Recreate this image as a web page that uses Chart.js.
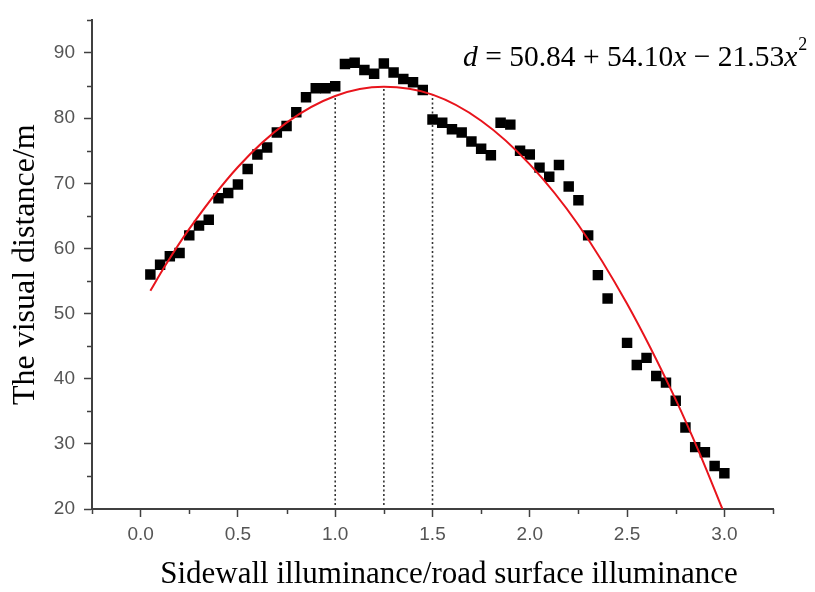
<!DOCTYPE html>
<html>
<head>
<meta charset="utf-8">
<script src="https://cdn.jsdelivr.net/npm/chart.js@4"></script>
<style>
  html, body { margin: 0; padding: 0; background: #ffffff; }
  #wrap { width: 815px; height: 592px; }
</style>
</head>
<body>
<div id="wrap"><canvas id="c" width="815" height="592"></canvas></div>
<script>
// ---- data ----
const ratioX = [0.05,0.10,0.15,0.20,0.25,0.30,0.35,0.40,0.45,0.50,
                0.55,0.60,0.65,0.70,0.75,0.80,0.85,0.90,0.95,1.00,
                1.05,1.10,1.15,1.20,1.25,1.30,1.35,1.40,1.45,1.50,
                1.55,1.60,1.65,1.70,1.75,1.80,1.85,1.90,1.95,2.00,
                2.05,2.10,2.15,2.20,2.25,2.30,2.35,2.40,2.50,2.55,
                2.60,2.65,2.70,2.75,2.80,2.85,2.90,2.95,3.00];
const visualDistance = [56.0,57.5,58.8,59.3,62.0,63.5,64.4,67.7,68.5,69.8,
                        72.2,74.4,75.5,77.8,78.8,80.9,83.2,84.6,84.6,84.9,
                        88.3,88.5,87.4,86.8,88.4,87.0,86.0,85.5,84.3,79.8,
                        79.3,78.3,77.8,76.4,75.3,74.3,79.3,79.0,75.0,74.4,
                        72.4,71.0,72.8,69.5,67.4,62.0,55.9,52.3,45.5,42.1,
                        43.2,40.4,39.4,36.6,32.5,29.5,28.7,26.6,25.5];
// fitted curve
const fitX = [0.05,0.125,0.25,0.5,0.75,1.0,1.25,1.5,1.75,2.0,2.25,2.5,2.75,2.875,2.99];
const fitY = [53.5,57.3,63.0,72.5,79.3,83.4,84.8,83.6,79.6,72.9,63.6,51.5,36.8,28.4,20.0];
// dotted guide lines
const guideX = [1.0, 1.25, 1.5];
const guideTop = [83.4, 84.8, 83.6];
const guideBottom = 20.6;
// axes
const xMajorTicks = [0.0,0.5,1.0,1.5,2.0,2.5,3.0];
const xMinorTicks = [-0.25,0.25,0.75,1.25,1.75,2.25,2.75,3.25];
const yMajorTicks = [20,30,40,50,60,70,80,90];
const yMinorTicks = [25,35,45,55,65,75,85,95];
const xTitle = 'Sidewall illuminance/road surface illuminance';
const yTitle = 'The visual distance/m';
const equationParts = [
  {t: 'd', it: true}, {t: ' = 50.84 + 54.10', it: false}, {t: 'x', it: true},
  {t: ' \u2212 21.53', it: false}, {t: 'x', it: true}, {t: '2', sup: true}
];

const AXIS_COLOR = '#404040';
const LABEL_COLOR = '#555555';

const scatterData = ratioX.map((x, i) => ({x: x, y: visualDistance[i]}));
const fitData = fitX.map((x, i) => ({x: x, y: fitY[i]}));
const guideSets = guideX.map((x, i) => ({
  type: 'line',
  data: [{x: x, y: guideBottom}, {x: x, y: guideTop[i]}],
  borderColor: '#333333',
  borderWidth: 1.6,
  borderDash: [2, 2.5],
  pointRadius: 0,
  order: 3
}));

const minorTickPlugin = {
  id: 'minorTicks',
  afterDraw(chart) {
    const ctx = chart.ctx;
    const xs = chart.scales.x, ys = chart.scales.y;
    ctx.save();
    ctx.strokeStyle = AXIS_COLOR;
    ctx.lineWidth = 1.5;
    ctx.beginPath();
    xMinorTicks.forEach(v => {
      const px = Math.round(xs.getPixelForValue(v)) + 0.5;
      ctx.moveTo(px, ys.bottom);
      ctx.lineTo(px, ys.bottom + 5);
    });
    yMinorTicks.forEach(v => {
      const py = Math.round(ys.getPixelForValue(v)) + 0.5;
      ctx.moveTo(xs.left, py);
      ctx.lineTo(xs.left - 5, py);
    });
    ctx.stroke();
    ctx.restore();
  }
};

const textPlugin = {
  id: 'texts',
  afterDraw(chart) {
    const ctx = chart.ctx;
    ctx.save();
    ctx.fillStyle = '#000000';
    ctx.textBaseline = 'alphabetic';
    // equation
    let x = 463;
    const y = 66;
    equationParts.forEach(p => {
      if (p.sup) {
        ctx.font = '18px "Liberation Serif"';
        ctx.fillText(p.t, x + 1, y - 16);
        x += ctx.measureText(p.t).width + 1;
      } else {
        ctx.font = (p.it ? 'italic ' : '') + '29.5px "Liberation Serif"';
        ctx.fillText(p.t, x, y);
        x += ctx.measureText(p.t).width;
      }
    });
    // x axis title
    ctx.font = '31px "Liberation Serif"';
    ctx.textAlign = 'center';
    ctx.textBaseline = 'middle';
    ctx.fillText(xTitle, 449, 575);
    ctx.restore();
  }
};

new Chart(document.getElementById('c'), {
  type: 'scatter',
  data: {
    datasets: [
      {
        type: 'line',
        data: fitData,
        borderColor: '#e8141c',
        borderWidth: 2,
        pointRadius: 0,
        cubicInterpolationMode: 'monotone',
        fill: false,
        order: 1
      },
      {
        data: scatterData,
        backgroundColor: '#000000',
        borderColor: '#000000',
        borderWidth: 0,
        pointStyle: 'rect',
        pointRadius: 7.4,
        order: 2
      },
      ...guideSets
    ]
  },
  plugins: [minorTickPlugin, textPlugin],
  options: {
    responsive: false,
    animation: false,
    events: [],
    layout: { padding: { left: 0, top: 8, right: 42, bottom: 0 } },
    plugins: { legend: { display: false }, tooltip: { enabled: false } },
    scales: {
      x: {
        type: 'linear',
        min: -0.25,
        max: 3.25,
        afterBuildTicks(scale) { scale.ticks = xMajorTicks.map(v => ({value: v})); },
        afterFit(scale) { scale.height = 83; },
        ticks: {
          color: LABEL_COLOR,
          font: { family: '"Liberation Sans"', size: 19 },
          padding: 6,
          maxRotation: 0,
          autoSkip: false,
          callback: v => v.toFixed(1)
        },
        grid: { drawOnChartArea: false, drawTicks: true, tickLength: 8, tickColor: AXIS_COLOR, tickWidth: 1.5 },
        border: { display: true, color: AXIS_COLOR, width: 2 },
        title: { display: false }
      },
      y: {
        type: 'linear',
        min: 20,
        max: 95,
        afterBuildTicks(scale) { scale.ticks = yMajorTicks.map(v => ({value: v})); },
        afterFit(scale) { scale.width = 92; },
        ticks: {
          color: LABEL_COLOR,
          font: { family: '"Liberation Sans"', size: 19 },
          padding: 9,
          autoSkip: false,
          callback: v => String(v)
        },
        grid: { drawOnChartArea: false, drawTicks: true, tickLength: 8, tickColor: AXIS_COLOR, tickWidth: 1.5 },
        border: { display: true, color: AXIS_COLOR, width: 2 },
        title: {
          display: true,
          text: yTitle,
          color: '#000000',
          font: { family: '"Liberation Serif"', size: 32, lineHeight: 1.0 },
          padding: { top: 10, bottom: 0 }
        }
      }
    }
  }
});
</script>
</body>
</html>
